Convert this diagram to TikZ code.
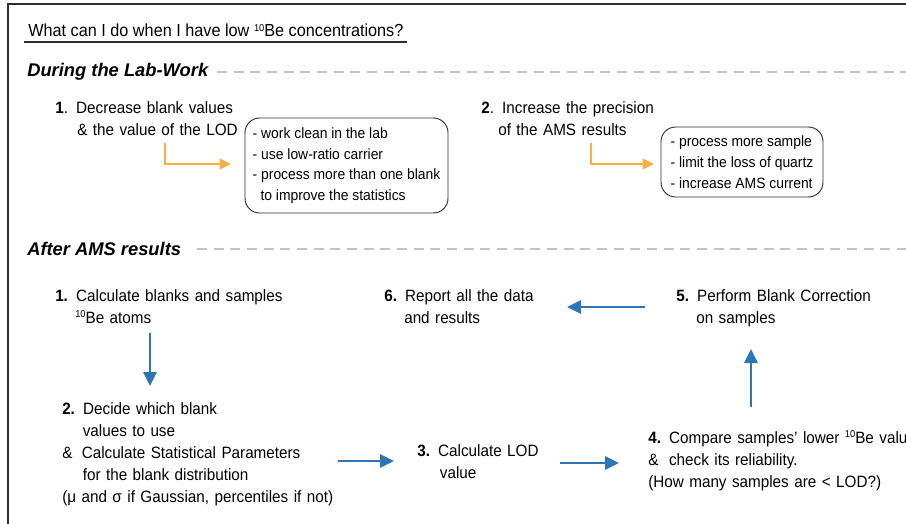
\documentclass[tikz,border=0pt]{standalone}
\usepackage{fontspec}
\setmainfont{Liberation Sans}[FakeStretch=0.93]
\newfontfamily\headfont{Liberation Sans}
\usetikzlibrary{arrows.meta}
\definecolor{flowblue}{RGB}{46,117,182}
\definecolor{laborange}{RGB}{245,176,65}
\definecolor{dashgray}{RGB}{195,195,195}
\definecolor{framegray}{RGB}{45,45,45}
\newcommand{\isoten}{{\fontsize{7.5}{8}\selectfont\raisebox{4.2pt}{10}}}
\begin{document}
\begin{tikzpicture}[x=0.75pt,y=-0.75pt,
  bodytxt/.style={anchor=base west,inner sep=0pt,align=left,text width=300pt,
    font=\fontsize{12.3}{16.5}\selectfont},
  titletxt/.style={anchor=base west,inner sep=0pt,font=\fontsize{13.1}{15}\selectfont},
  headtxt/.style={anchor=base west,inner sep=0pt,font=\headfont\fontsize{13.75}{16}\selectfont\bfseries\itshape},
  labbox/.style={draw=framegray,line width=0.7pt,rounded corners=11pt,align=left,
    inner sep=0pt,font=\fontsize{11.2}{15.5}\selectfont},
  sepline/.style={dashgray,line width=1.1pt,dash pattern=on 7.5pt off 5pt},
  framestyle/.style={framegray,line width=1.1pt},
  orarrow/.style={laborange,line width=1.5pt,-{Triangle[length=8.5pt,width=8pt]}},
  bluearrow/.style={flowblue,line width=1.6pt,-{Triangle[length=10.5pt,width=10pt]}}
]
\useasboundingbox (0,0) rectangle (906,524);
% frame
\coordinate (fbl) at (8,530);
\coordinate (ftl) at (8,4);
\coordinate (ftr) at (910,4);
\draw[framestyle] (fbl) -- (ftl) -- (ftr);

% title
\node[titletxt] (title) at (28,37) {What can I do when I have low \isoten Be concentrations?};
\coordinate (ula) at (24,42);
\coordinate (ulb) at (407,42);
\draw[framestyle] (ula) -- (ulb);

% headings
\node[headtxt] (h1) at (27,77) {During the Lab-Work};
\coordinate (d1a) at (217,72);
\coordinate (d1b) at (906,72);
\draw[sepline] (d1a) -- (d1b);
\node[headtxt] (h2) at (27,255) {After AMS results};
\coordinate (d2a) at (197,249);
\coordinate (d2b) at (906,249);
\draw[sepline] (d2a) -- (d2b);

% lab work
\node[bodytxt] (lab1) at (55,114) {\textbf{1}. Decrease blank values\\\hspace*{16.5pt}\& the value of the LOD};
\node[labbox,minimum width=152.25pt,minimum height=71.25pt] (box1) at (346.5,165.5)
  {- work clean in the lab\\- use low-ratio carrier\\- process more than one blank\\\hspace*{3pt} to improve the statistics};
\coordinate (o1a) at (165,143);
\coordinate (o1b) at (165,164);
\coordinate (o1c) at (231,164);
\draw[orarrow] (o1a) -- (o1b) -- (o1c);

\node[bodytxt] (lab2) at (481,114) {\textbf{2}. Increase the precision\\\hspace*{12.75pt}of the AMS results};
\node[labbox,minimum width=121.5pt,minimum height=52.5pt] (box2) at (742,162)
  {- process more sample\\- limit the loss of quartz\\- increase AMS current};
\coordinate (o2a) at (591,143);
\coordinate (o2b) at (591,164);
\coordinate (o2c) at (654,164);
\draw[orarrow] (o2a) -- (o2b) -- (o2c);

% after AMS
\node[bodytxt] (a1) at (55,301) {\textbf{1.} Calculate blanks and samples\\\hspace*{15pt}\isoten Be atoms};
\node[bodytxt] (a6) at (384,301) {\textbf{6.} Report all the data\\\hspace*{15pt}and results};
\node[bodytxt] (a5) at (676,301) {\textbf{5.} Perform Blank Correction\\\hspace*{15pt}on samples};
\node[bodytxt] (a2) at (62,414) {\textbf{2.} Decide which blank\\\hspace*{15.4pt}values to use\\\&\hspace*{7pt}Calculate Statistical Parameters\\\hspace*{15.4pt}for the blank distribution\\(μ and σ if Gaussian, percentiles if not)};
\node[bodytxt] (a3) at (417,456) {\textbf{3.} Calculate LOD\\\hspace*{17pt}value};
\node[bodytxt] (a4) at (648,443) {\textbf{4.} Compare samples’ lower \isoten Be value\\\&\hspace*{8pt}check its reliability.\\(How many samples are < LOD?)};

\coordinate (b1a) at (150,333);
\coordinate (b1b) at (150,386);
\draw[bluearrow] (b1a) -- (b1b);
\coordinate (b2a) at (338,461);
\coordinate (b2b) at (394,461);
\draw[bluearrow] (b2a) -- (b2b);
\coordinate (b3a) at (560,463);
\coordinate (b3b) at (619,463);
\draw[bluearrow] (b3a) -- (b3b);
\coordinate (b4a) at (751,407);
\coordinate (b4b) at (751,349);
\draw[bluearrow] (b4a) -- (b4b);
\coordinate (b5a) at (645,307);
\coordinate (b5b) at (567,307);
\draw[bluearrow] (b5a) -- (b5b);
\end{tikzpicture}
\end{document}
